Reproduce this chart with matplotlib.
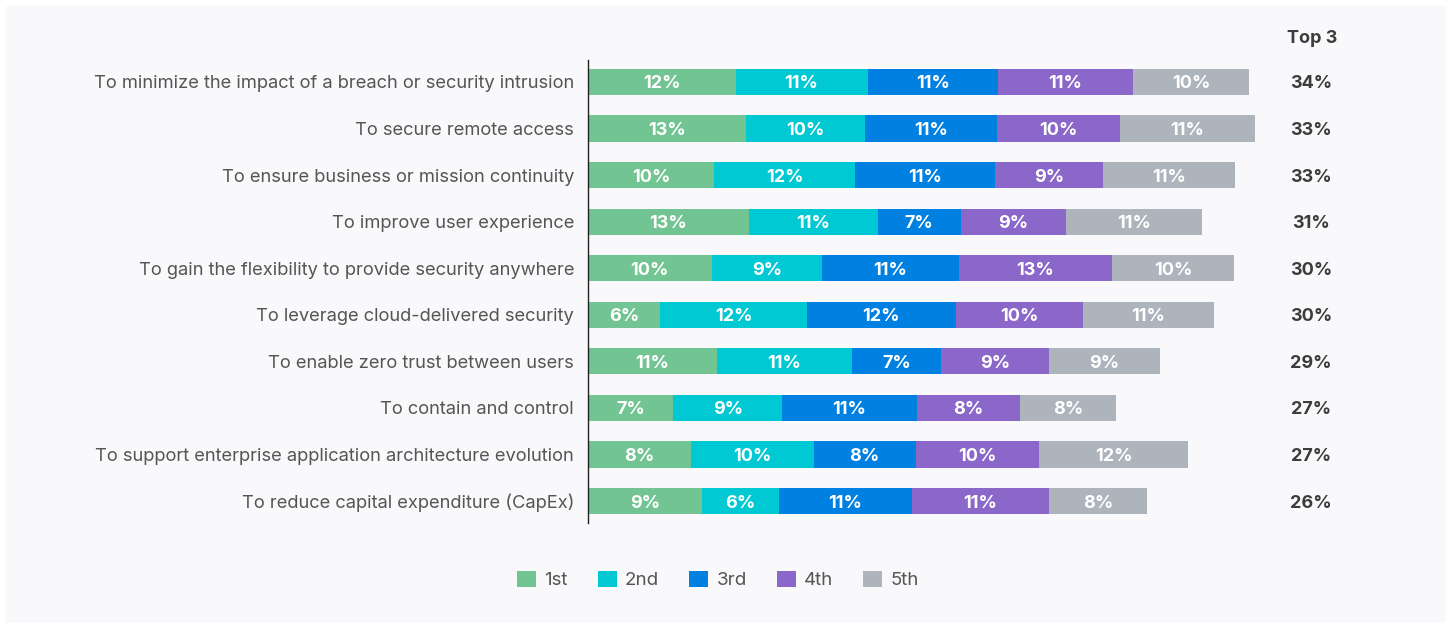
import matplotlib.pyplot as plt
from matplotlib.patches import Rectangle, Patch

plt.rcParams['font.family'] = ['Inter', 'DejaVu Sans']

categories = [
    "To minimize the impact of a breach or security intrusion",
    "To secure remote access",
    "To ensure business or mission continuity",
    "To improve user experience",
    "To gain the flexibility to provide security anywhere",
    "To leverage cloud-delivered security",
    "To enable zero trust between users",
    "To contain and control",
    "To support enterprise application architecture evolution",
    "To reduce capital expenditure (CapEx)",
]

ranks = ["1st", "2nd", "3rd", "4th", "5th"]

# bar widths (percent)
first = [12.3, 13.2, 10.5, 13.4, 10.3, 6.0, 10.75, 7.1, 8.6, 9.5]
second = [11.0, 9.9, 11.75, 10.75, 9.2, 12.25, 11.25, 9.1, 10.2, 6.4]
third = [10.9, 11.0, 11.7, 6.9, 11.4, 12.4, 7.4, 11.2, 8.5, 11.1]
fourth = [11.2, 10.25, 9.0, 8.8, 12.75, 10.6, 9.0, 8.6, 10.3, 11.4]
fifth = [9.7, 11.2, 11.0, 11.3, 10.2, 10.9, 9.3, 8.0, 12.4, 8.2]

# printed labels
first_lbl = [12, 13, 10, 13, 10, 6, 11, 7, 8, 9]
second_lbl = [11, 10, 12, 11, 9, 12, 11, 9, 10, 6]
third_lbl = [11, 11, 11, 7, 11, 12, 7, 11, 8, 11]
fourth_lbl = [11, 10, 9, 9, 13, 10, 9, 8, 10, 11]
fifth_lbl = [10, 11, 11, 11, 10, 11, 9, 8, 12, 8]

top3 = [34, 33, 33, 31, 30, 30, 29, 27, 27, 26]

colors = ["#72c492", "#00c9d4", "#0080e0", "#8a67c9", "#adb4bc"]

fig = plt.figure(figsize=(14.52, 6.29), dpi=100)
fig.patch.set_facecolor("white")
panel = Rectangle((6 / 1452, 6 / 629), 1440 / 1452, 617 / 629,
                  transform=fig.transFigure, facecolor="#f9f8fb",
                  edgecolor="none", zorder=-10)
fig.add_artist(panel)

ax = fig.add_axes([588 / 1452, 1 - 523 / 629, 720 / 1452, 463 / 629])
ax.set_facecolor("none")
ax.set_zorder(5)

series = [first, second, third, fourth, fifth]
labels = [first_lbl, second_lbl, third_lbl, fourth_lbl, fifth_lbl]
y = list(range(len(categories)))
left = [0.0] * len(categories)

for vals, lbls, col in zip(series, labels, colors):
    ax.barh(y, vals, left=left, height=0.56, color=col, edgecolor="none")
    for i in y:
        ax.text(left[i] + vals[i] / 2, i, f"{lbls[i]}%", ha="center",
                va="center_baseline", color="white", fontsize=13, fontweight="bold")
    left = [l + v for l, v in zip(left, vals)]

for i in y:
    ax.text(60.25, i, f"{top3[i]}%", ha="center", va="center_baseline",
            color="#3c3c3c", fontsize=13, fontweight="bold", clip_on=False)
ax.text(60.35, -0.966, "Top 3", ha="center", va="center_baseline",
        color="#3c3c3c", fontsize=13, fontweight="bold", clip_on=False)

ax.set_xlim(0, 60)
ax.set_ylim(9.47, -0.47)
ax.set_yticks(y)
ax.set_yticklabels(categories, fontsize=13.2, color="#555555", va="center_baseline")
ax.tick_params(axis="y", length=0, pad=10)
ax.set_xticks([])
for s in ["top", "right", "bottom"]:
    ax.spines[s].set_visible(False)
ax.spines["left"].set_color("#222222")
ax.spines["left"].set_linewidth(1)

handles = [Patch(facecolor=c, edgecolor="none") for c in colors]
fig.legend(handles, ranks, loc="center", bbox_to_anchor=(718 / 1452, 1 - 580 / 629),
           ncol=5, frameon=False, fontsize=13.5, labelcolor="#555555",
           handlelength=1.0, handleheight=1.0, handletextpad=0.45, columnspacing=1.6)

fig.savefig("out.png", dpi=100, facecolor=fig.get_facecolor())
